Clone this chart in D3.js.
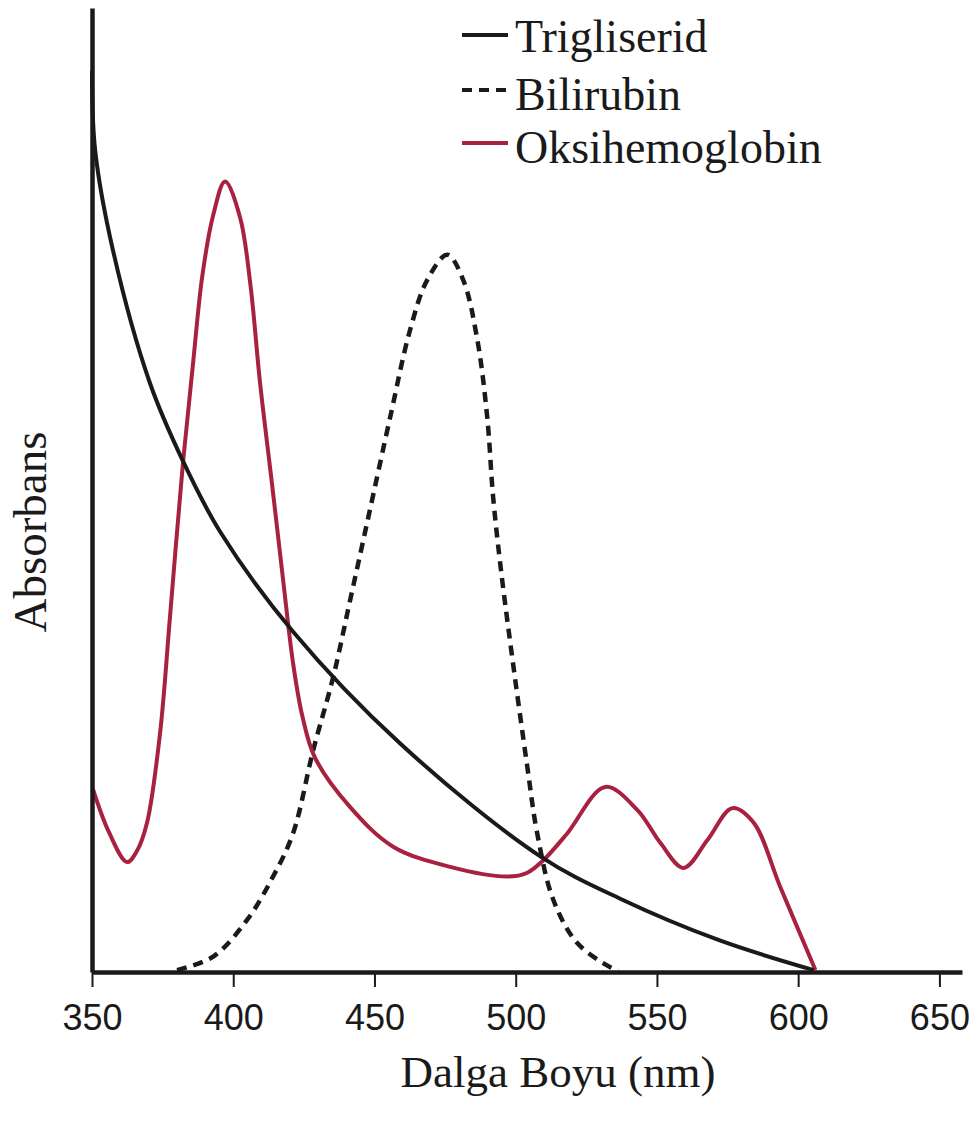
<!DOCTYPE html>
<html>
<head>
<meta charset="utf-8">
<script src="https://cdn.jsdelivr.net/npm/d3@7"></script>
<style>
    body { margin: 0; background: #fff; }
    svg { display: block; }
</style>
</head>
<body>
<svg id="chart" width="975" height="1124"></svg>
<script>
// Data: [wavelength nm, relative absorbance]
const trigliserid = [
    [350, 0.935], [351.1, 0.853], [357.4, 0.749], [370.5, 0.611], [382.2, 0.53],
    [395.3, 0.457], [421.2, 0.353], [459.1, 0.237], [508.7, 0.12], [537, 0.076],
    [572, 0.033], [605.5, 0.002]
];
const bilirubin = [
    [380.1, 0.002], [392.9, 0.016], [404.9, 0.054], [414.1, 0.099], [421.2, 0.144],
    [428.3, 0.23], [435.4, 0.306], [441.4, 0.386], [447.4, 0.466], [455.6, 0.576],
    [462.6, 0.666], [468.7, 0.718], [475.8, 0.744], [481.4, 0.718], [486.4, 0.656],
    [489.9, 0.576], [492, 0.493], [494.5, 0.424], [498.1, 0.341], [504.1, 0.213],
    [507.6, 0.144], [513.3, 0.075], [521.8, 0.03], [533.5, 0.005], [536.3, 0.002]
];
const oksihemoglobin = [
    [350.3, 0.19], [356, 0.145], [362.4, 0.114], [366, 0.126], [369.5, 0.155], [374.1, 0.248],
    [377.6, 0.368], [382.2, 0.528], [385.8, 0.632], [389, 0.721], [392.9, 0.785],
    [397.1, 0.82], [402.4, 0.783], [406, 0.715], [409.5, 0.611], [413.7, 0.507],
    [417.8, 0.403], [421.2, 0.32], [424.5, 0.265], [429, 0.222], [441.4, 0.171], [456.6, 0.13],
    [476.8, 0.109], [497, 0.099], [504.1, 0.103], [509.8, 0.116], [518.3, 0.144],
    [531.7, 0.192], [543.1, 0.168], [551.2, 0.134], [559.4, 0.108], [567.9, 0.137],
    [576.7, 0.17], [584.2, 0.155], [593.7, 0.088], [606.1, 0.002]
];
const xTicks = [350, 400, 450, 500, 550, 600, 650];
const legendItems = ['Trigliserid', 'Bilirubin', 'Oksihemoglobin'];

const red = '#a8223f';
const ink = '#1a1a1a';

const svg = d3.select('#chart');

// Scales
const x = d3.scaleLinear().domain([350, 658]).range([92, 962]);
const y = d3.scaleLinear().domain([0, 1]).range([972, 8]);

const line = d3.line()
    .x(d => x(d[0]))
    .y(d => y(d[1]))
    .curve(d3.curveCatmullRom.alpha(0.5));

// Curves
svg.append('path')
    .datum(bilirubin)
    .attr('d', line)
    .attr('fill', 'none')
    .attr('stroke', ink)
    .attr('stroke-width', 4.5)
    .attr('stroke-dasharray', '10,7');

svg.append('path')
    .datum(oksihemoglobin)
    .attr('d', line)
    .attr('fill', 'none')
    .attr('stroke', red)
    .attr('stroke-width', 4);

svg.append('path')
    .datum(trigliserid)
    .attr('d', line)
    .attr('fill', 'none')
    .attr('stroke', ink)
    .attr('stroke-width', 4);

// X axis
const xAxis = svg.append('g')
    .attr('transform', 'translate(0,972)')
    .call(d3.axisBottom(x).tickValues(xTicks).tickSize(15).tickSizeOuter(0).tickPadding(17));
xAxis.select('.domain').attr('stroke', ink).attr('stroke-width', 4.5);
xAxis.selectAll('.tick line').attr('stroke', ink).attr('stroke-width', 2);
xAxis.selectAll('.tick text')
    .attr('fill', ink)
    .style('font-family', '"Liberation Sans", Arial, sans-serif')
    .style('font-size', '36px');

// Y axis (line only)
const yAxis = svg.append('g')
    .attr('transform', 'translate(92,0)')
    .call(d3.axisLeft(y).tickValues([]).tickSizeOuter(0));
yAxis.select('.domain').attr('stroke', ink).attr('stroke-width', 4.5);

// Axis titles
svg.append('text')
    .attr('x', 558)
    .attr('y', 1087)
    .attr('text-anchor', 'middle')
    .style('font-family', '"Liberation Serif", "Times New Roman", serif')
    .style('font-size', '45px')
    .attr('fill', ink)
    .text('Dalga Boyu (nm)');

svg.append('text')
    .attr('transform', 'translate(46,532) rotate(-90)')
    .attr('text-anchor', 'middle')
    .style('font-family', '"Liberation Serif", "Times New Roman", serif')
    .style('font-size', '47px')
    .attr('fill', ink)
    .text('Absorbans');

// Legend
const legend = svg.append('g').selectAll('g')
    .data(legendItems)
    .enter()
    .append('g')
    .attr('transform', (d, i) => `translate(462,${[35, 90, 143][i]})`);

legend.append('line')
    .attr('x1', 0)
    .attr('x2', 46)
    .attr('stroke', (d, i) => i === 2 ? red : ink)
    .attr('stroke-width', 4)
    .attr('stroke-dasharray', (d, i) => i === 1 ? '10,7' : null);

legend.append('text')
    .attr('x', 53)
    .attr('y', (d, i) => [17, 20, 20][i])
    .style('font-family', '"Liberation Serif", "Times New Roman", serif')
    .style('font-size', '46px')
    .attr('fill', ink)
    .text(d => d);
</script>
</body>
</html>
